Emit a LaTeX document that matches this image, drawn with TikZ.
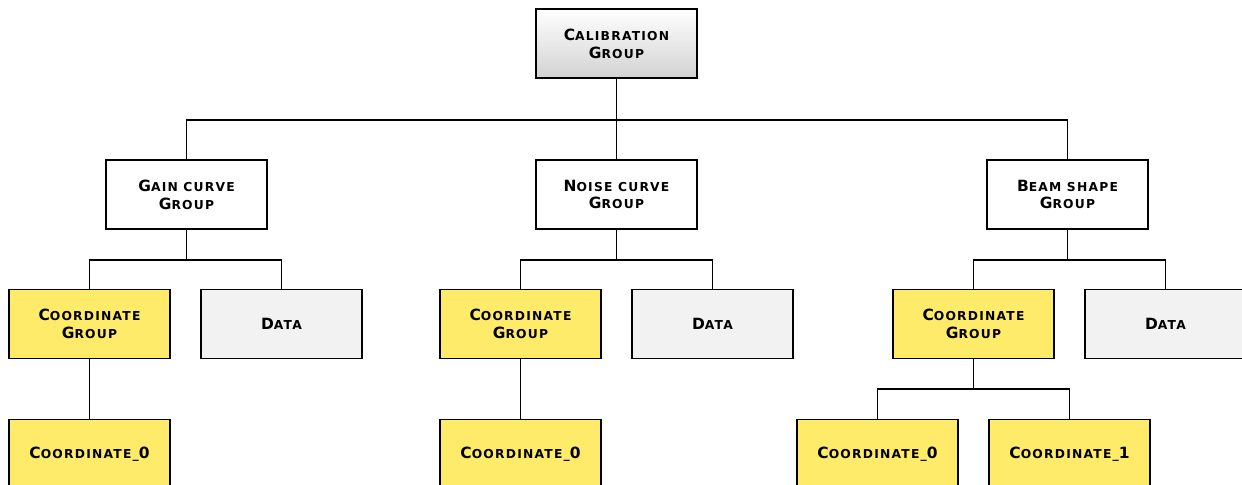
\documentclass[tikz,border=0pt]{standalone}
\usepackage{fontspec}
\setmainfont{DejaVu Sans}[LetterSpace=10]
\newcommand\Cp[1]{{\fontsize{8.8}{10.2}\selectfont #1}}
\newcommand\Sm[1]{{\fontsize{7}{10.2}\selectfont #1}}
\definecolor{yel}{HTML}{FFEB6A}
\definecolor{dat}{HTML}{F2F2F2}
\definecolor{grd}{HTML}{D2D2D2}
\begin{document}
\begin{tikzpicture}[x=0.02cm,y=-0.02cm,
  box/.style={draw, line width=1pt, minimum width=3.22cm, minimum height=1.38cm,
    align=center, inner sep=0pt, font=\bfseries\fontsize{8.8}{10.2}\selectfont},
  white box/.style={box, fill=white},
  top box/.style={box, top color=white, bottom color=grd},
  yel box/.style={box, fill=yel},
  dat box/.style={box, fill=dat},
  link/.style={line width=0.8pt}]
\useasboundingbox (0,0) rectangle (1242,484);
\clip (0,0) rectangle (1242,484);
% level 0
\node[top box] (cal) at (616.5,43.5) {\Cp{C}\Sm{ALIBRATION}\\\Cp{G}\Sm{ROUP}};
% level 1
\node[white box] (gain) at (186.5,194.5) {\Cp{G}\Sm{AIN CURVE}\\\Cp{G}\Sm{ROUP}};
\node[white box] (noise) at (616.5,194.5) {\Cp{N}\Sm{OISE CURVE}\\\Cp{G}\Sm{ROUP}};
\node[white box] (beam) at (1067.5,194.5) {\Cp{B}\Sm{EAM SHAPE}\\\Cp{G}\Sm{ROUP}};
% level 2
\node[yel box] (gc) at (89.5,324) {\Cp{C}\Sm{OORDINATE}\\\Cp{G}\Sm{ROUP}};
\node[dat box] (gd) at (281.5,324) {\Cp{D}\Sm{ATA}};
\node[yel box] (nc) at (520.5,324) {\Cp{C}\Sm{OORDINATE}\\\Cp{G}\Sm{ROUP}};
\node[dat box] (nd) at (712.5,324) {\Cp{D}\Sm{ATA}};
\node[yel box] (bc) at (973.5,324) {\Cp{C}\Sm{OORDINATE}\\\Cp{G}\Sm{ROUP}};
\node[dat box] (bd) at (1165.5,324) {\Cp{D}\Sm{ATA}};
% level 3
\node[yel box] (gc0) at (89.5,454) {\Cp{C}\Sm{OORDINATE\_}\Cp{0}};
\node[yel box] (nc0) at (520.5,454) {\Cp{C}\Sm{OORDINATE\_}\Cp{0}};
\node[yel box] (bc0) at (877.5,454) {\Cp{C}\Sm{OORDINATE\_}\Cp{0}};
\node[yel box] (bc1) at (1069.5,454) {\Cp{C}\Sm{OORDINATE\_}\Cp{1}};
% buses
\coordinate (b0) at (616.5,120);
\coordinate (b1) at (186.5,260);
\coordinate (b2) at (616.5,260);
\coordinate (b3) at (1067.5,260);
\coordinate (b4) at (973.5,389);
\draw[link] (cal.south) -- (b0);
\draw[link] (gain.north) |- (b0);
\draw[link] (noise.north) -- (b0);
\draw[link] (beam.north) |- (b0);
\draw[link] (gain.south) -- (b1);
\draw[link] (gc.north) |- (b1);
\draw[link] (gd.north) |- (b1);
\draw[link] (noise.south) -- (b2);
\draw[link] (nc.north) |- (b2);
\draw[link] (nd.north) |- (b2);
\draw[link] (beam.south) -- (b3);
\draw[link] (bc.north) |- (b3);
\draw[link] (bd.north) |- (b3);
\draw[link] (gc.south) -- (gc0.north);
\draw[link] (nc.south) -- (nc0.north);
\draw[link] (bc.south) -- (b4);
\draw[link] (bc0.north) |- (b4);
\draw[link] (bc1.north) |- (b4);
\end{tikzpicture}
\end{document}
